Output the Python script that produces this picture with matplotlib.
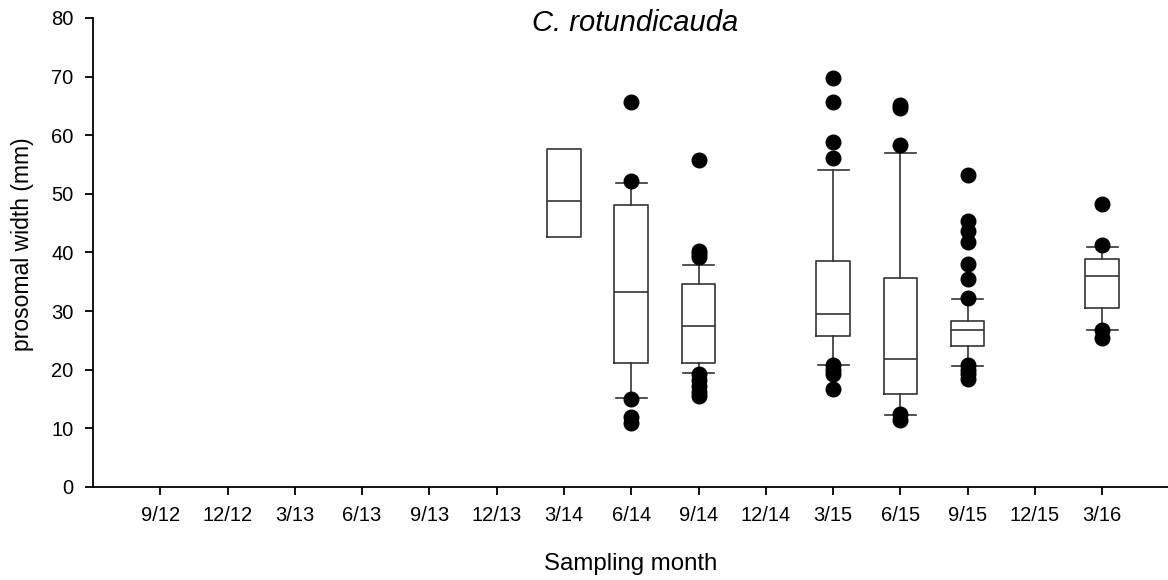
import matplotlib
matplotlib.use("Agg")
import matplotlib.pyplot as plt

plt.rcParams['font.family'] = ['Liberation Sans', 'DejaVu Sans']

months = ["9/12", "12/12", "3/13", "6/13", "9/13", "12/13", "3/14", "6/14",
          "9/14", "12/14", "3/15", "6/15", "9/15", "12/15", "3/16"]

# months that have data
box_months = ["3/14", "6/14", "9/14", "3/15", "6/15", "9/15", "3/16"]
q1 = [42.7, 21.1, 21.1, 25.8, 15.9, 24.1, 30.6]
med = [48.7, 33.2, 27.5, 29.5, 21.8, 26.8, 36.0]
q3 = [57.7, 48.1, 34.6, 38.5, 35.6, 28.3, 38.9]
whislo = [42.7, 15.1, 19.4, 20.8, 12.2, 20.6, 26.8]
whishi = [57.7, 51.9, 37.9, 54.1, 56.9, 32.0, 40.9]
fliers = [
    [],
    [65.7, 52.2, 15.0, 11.9, 10.9],
    [55.7, 40.3, 39.8, 39.3, 19.2, 18.2, 17.2, 16.2, 15.5],
    [69.7, 65.6, 58.9, 56.1, 20.8, 20.0, 19.3, 16.8],
    [65.2, 64.6, 58.3, 12.4, 11.4],
    [53.3, 45.4, 43.6, 41.8, 38.0, 35.5, 32.2, 20.8, 20.0, 19.3, 18.5],
    [48.2, 41.3, 26.8, 25.5],
]
has_whiskers = [False, True, True, True, True, True, True]

fig = plt.figure(figsize=(11.68, 5.80), dpi=100)
ax = fig.add_axes([93/1168, 1 - 487/580, 1 - 93/1168, (487 - 18)/580])

stats = []
for i in range(len(box_months)):
    stats.append(dict(med=med[i], q1=q1[i], q3=q3[i],
                      whislo=whislo[i], whishi=whishi[i], fliers=fliers[i]))
positions = [months.index(m) for m in box_months]

lc = '#333333'
for s, p, hw in zip(stats, positions, has_whiskers):
    ax.bxp([s], positions=[p], widths=0.5, capwidths=0.46,
           showcaps=hw, manage_ticks=False,
           boxprops=dict(color=lc, linewidth=1.2),
           whiskerprops=dict(color=lc, linewidth=1.2),
           capprops=dict(color=lc, linewidth=1.2),
           medianprops=dict(color=lc, linewidth=1.2),
           flierprops=dict(marker='o', markerfacecolor='black',
                           markeredgecolor='black', markersize=10.5))

ax.set_xlim(-1, (1168 - 160) / 67.3)
ax.set_ylim(0, 80)
ax.set_xticks(range(len(months)))
ax.set_xticklabels(months)
ax.set_yticks(range(0, 81, 10))

for sp in ['top', 'right']:
    ax.spines[sp].set_visible(False)
for sp in ['left', 'bottom']:
    ax.spines[sp].set_linewidth(1.3)
    ax.spines[sp].set_color('black')

ax.tick_params(axis='both', direction='out', length=6, width=1.3,
               labelsize=14.5, colors='black')
ax.tick_params(axis='x', pad=8)
ax.tick_params(axis='y', pad=8)

fig.text(635.5/1168, 1 - 31/580, "C. rotundicauda", fontstyle='italic',
         fontsize=21, ha='center', va='baseline')
ax.set_xlabel("Sampling month", fontsize=17.3, va='baseline')
ax.xaxis.set_label_coords(0.5, (487 - 570) / 469)
ax.set_ylabel("prosomal width (mm)", fontsize=16.5, va='center')
ax.yaxis.set_label_coords((23 - 93) / 1075, (487 - 244) / 469)

fig.savefig("out.png", dpi=100)
